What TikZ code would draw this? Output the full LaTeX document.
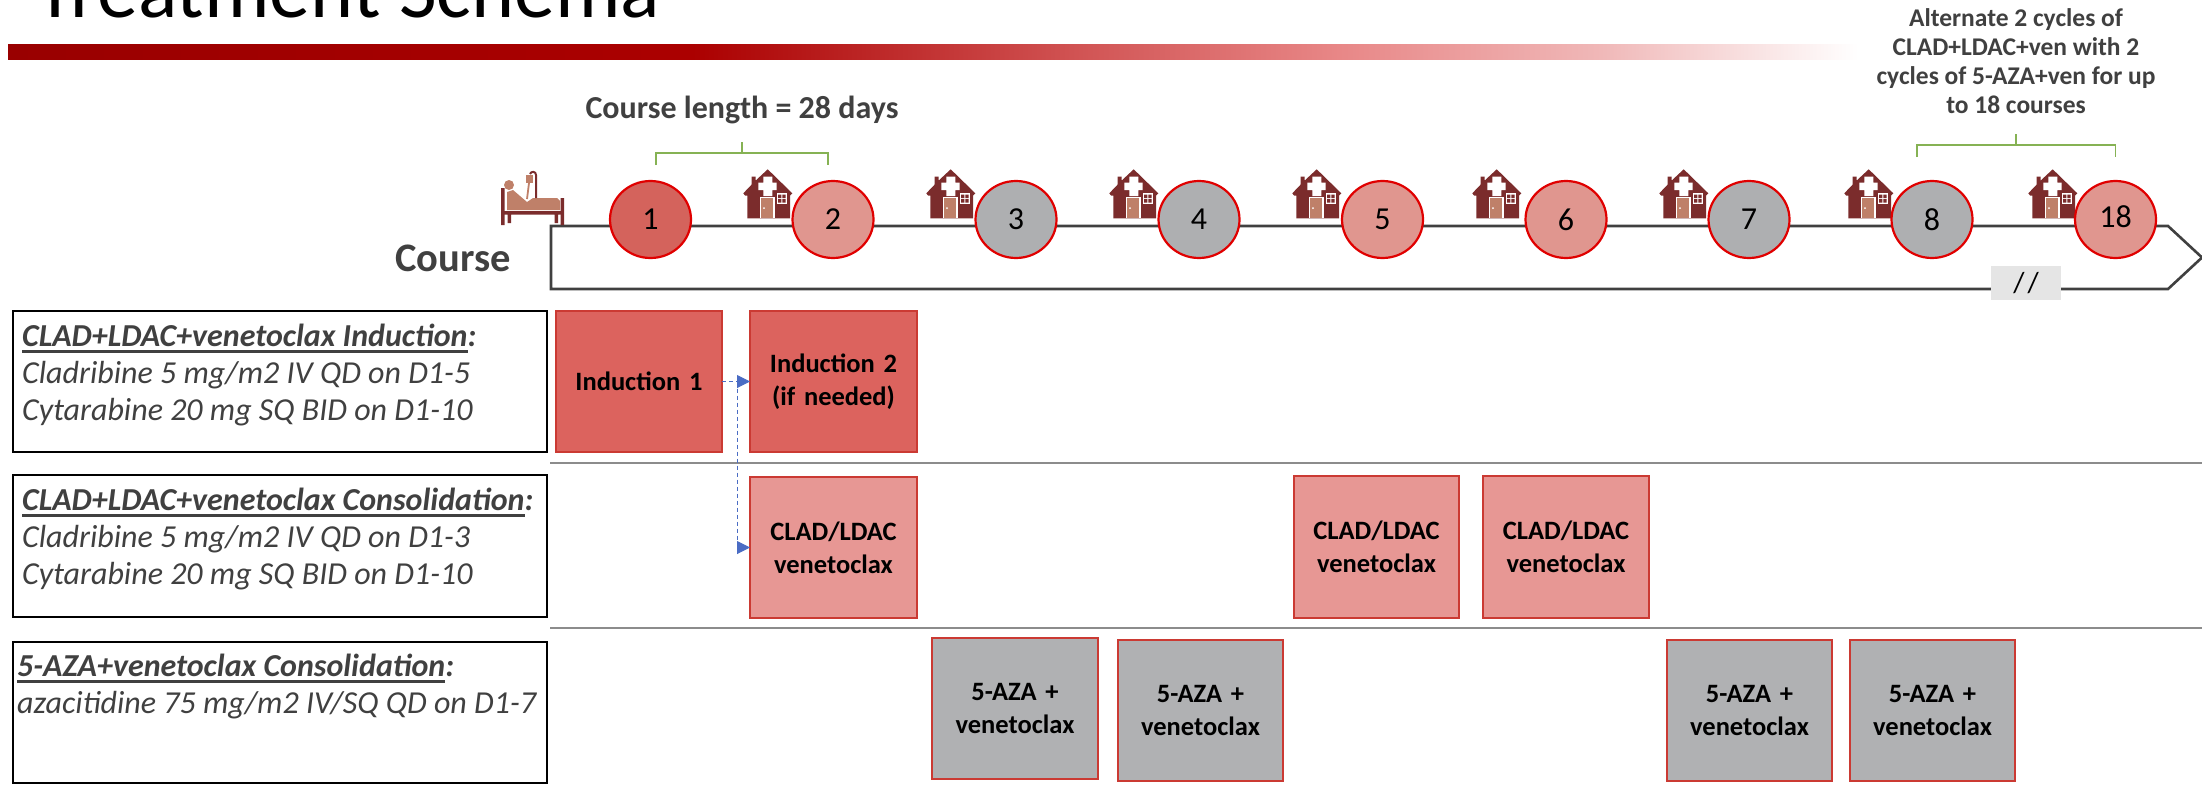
\documentclass[tikz,border=0pt]{standalone}
\usepackage{fontspec}
\setmainfont{Carlito}
\usetikzlibrary{arrows.meta,shapes.geometric}
\definecolor{txtgray}{HTML}{404040}
\definecolor{circred}{HTML}{D4635C}
\definecolor{circpink}{HTML}{E0968F}
\definecolor{circgray}{HTML}{AEAFB1}
\definecolor{edgered}{HTML}{E00000}
\definecolor{boxred}{HTML}{DC635E}
\definecolor{boxpink}{HTML}{E79794}
\definecolor{boxgray}{HTML}{B0B1B3}
\definecolor{boxedge}{HTML}{CB3A33}
\definecolor{iconred}{HTML}{7B2C2C}
\definecolor{iconpink}{HTML}{BF8069}
\definecolor{brgreen}{HTML}{86B254}
\definecolor{arrowblue}{HTML}{4A6CC4}
\pgfdeclarehorizontalshading{barshade}{100bp}{
  rgb(0bp)=(0.6,0,0);
  rgb(25bp)=(0.6,0,0);
  rgb(43.5bp)=(0.67,0,0);
  rgb(54bp)=(0.82,0.33,0.33);
  rgb(61bp)=(0.91,0.53,0.53);
  rgb(68bp)=(0.94,0.72,0.72);
  rgb(75bp)=(1,1,1);
  rgb(100bp)=(1,1,1)}
\newcommand{\ulbox}[1]{\setbox0\hbox{#1}\rlap{\rule[-6.5pt]{\wd0}{2.8pt}}\box0}
\tikzset{
  course/.style={ellipse,draw=edgered,line width=2.2pt,minimum width=81pt,minimum height=77pt,inner sep=0pt,outer sep=0pt,font=\fontsize{32}{32}\selectfont,text=black},
  cred/.style={course,fill=circred},
  cpink/.style={course,fill=circpink},
  cgray/.style={course,fill=circgray},
  drug/.style={rectangle,draw=boxedge,line width=2.4pt,anchor=north west,inner sep=0pt,outer sep=0pt,align=center,
     font=\bfseries\fontsize{26.5}{33}\selectfont,text=black,text width=160pt},
  infobox/.style={rectangle,draw=black,line width=2.8pt,anchor=north west,minimum width=534pt,inner sep=0pt,outer sep=0pt},
  infotext/.style={anchor=north west,inner sep=0pt,align=left,text=txtgray,font=\itshape\fontsize{32}{37}\selectfont},
  note/.style={text=txtgray,inner sep=0pt,font=\bfseries\fontsize{25.5}{29}\selectfont,align=center},
  bracket/.style={draw=brgreen,line width=1.6pt},
  sep/.style={draw=gray!90,line width=1.6pt},
  flow/.style={draw=arrowblue,line width=1pt,dash pattern=on 4pt off 3pt},
  house/.pic={
    \fill[iconred] (24.7,-49.7) -- (12.7,-38.5) -- (12.7,-42.3) -- (8.7,-42.3) -- (8.7,-34.5) -- (.3,-25.7) -- (2,-23.5) -- (4.3,-23.5) -- (4.3,-.7) -- (47,-.7) -- (47,-23.5) -- (49.3,-25.7) -- cycle;
    \fill[white] (20.3,-42.3) rectangle (29.3,-23) (15.3,-36.3) rectangle (33.7,-29);
    \fill[white] (16.5,-22) rectangle (31.5,-.7);
    \fill[iconpink] (18,-20.7) rectangle (30,-.7);
    \fill[white] (21,-10.8) circle (1);
    \fill[white] (33.7,-25.7) rectangle (44,-15.2);
    \fill[iconred] (35,-24.4) rectangle (38.3,-21) (39.4,-24.4) rectangle (42.7,-21) (35,-20) rectangle (38.3,-16.5) (39.4,-20) rectangle (42.7,-16.5);
  }
}
\begin{document}
\begin{tikzpicture}[x=1pt,y=-1pt]
\useasboundingbox (0,0) rectangle (2202,790);
% title and bar
\node[anchor=base west,inner sep=0pt,font=\fontsize{82}{82}\selectfont] (title) at (35,17) {Treatment Schema};
\shade[shading=barshade] (8,44) rectangle (1858,59);
% timeline
\coordinate (tlA) at (551,226);
\coordinate (tlB) at (2168,226);
\coordinate (tlC) at (2202,257.5);
\coordinate (tlD) at (2168,289);
\coordinate (tlE) at (551,289);
\draw[draw=txtgray,line width=2.6pt,line join=miter] (tlA) -- (tlB) -- (tlC) -- (tlD) -- (tlE) -- cycle;
% slash marker
\node[fill=black!10,minimum width=70pt,minimum height=34pt,inner sep=0pt,font=\fontsize{29}{29}\selectfont] (slash) at (2026,283) {/\kern3pt/};
% bed icon
\begin{scope}
  \fill[iconred] (501,188) rectangle (504.5,225) (560.5,198) rectangle (564,225);
  \fill[iconred] (504,211) rectangle (561,214.5) (507.5,214) rectangle (511,223) (554.5,214) rectangle (558,223);
  \fill[iconpink] (509,185) circle (5);
  \fill[iconpink] (507,192) -- (513,190) -- (527,202) -- (533,198) -- (557,198) -- (560,201) -- (560,210) -- (507,210) -- cycle;
  \fill[iconpink] (526,175) rectangle (533,183);
  \draw[iconpink,line width=1.8pt] (529,183) -- (527,199);
  \draw[iconred,line width=2pt] (536,198) -- (536,175) .. controls (536,171) and (531,171) .. (530,174);
\end{scope}
% houses
\foreach \hx in {743,926,1109,1292,1472,1659,1844,2028}
  \pic at (\hx,219) {house};
% course circles
\node[cred] (c1) at (650.5,219.5) {1};
\node[cpink] (c2) at (833,219.5) {2};
\node[cgray] (c3) at (1016,219.5) {3};
\node[cgray] (c4) at (1199,219.5) {4};
\node[cpink] (c5) at (1382.5,219.5) {5};
\node[cpink] (c6) at (1566,219.5) {6};
\node[cgray] (c7) at (1749,219.5) {7};
\node[cgray] (c8) at (1932,219.5) {8};
\node[cpink] (c18) at (2115.5,219.5) {\raisebox{6pt}{18}};
% labels
\node[note,font=\bfseries\fontsize{32}{32}\selectfont] (len) at (742,110) {Course length = 28 days};
\node[note,font=\bfseries\fontsize{40.5}{40.5}\selectfont] (crs) at (453,258) {Course};
\node[note,anchor=north] (alt) at (2016,8) {Alternate 2 cycles of\\CLAD+LDAC+ven with 2\\cycles of 5-AZA+ven for up\\to 18 courses};
% brackets
\coordinate (b1a) at (656,165); \coordinate (b1b) at (656,153);
\coordinate (b1c) at (828,153); \coordinate (b1d) at (828,165);
\coordinate (b1e) at (742,153); \coordinate (b1f) at (742,142);
\draw[bracket] (b1a) -- (b1b) -- (b1c) -- (b1d) (b1e) -- (b1f);
\coordinate (b2a) at (1917,157); \coordinate (b2b) at (1917,145);
\coordinate (b2c) at (2115.5,145); \coordinate (b2d) at (2115.5,157);
\coordinate (b2e) at (2016,145); \coordinate (b2f) at (2016,134);
\draw[bracket] (b2a) -- (b2b) -- (b2c) -- (b2d) (b2e) -- (b2f);
% info boxes
\node[infobox,minimum height=141pt] (i1) at (13,311) {};
\node[infotext] (i1t) at (22,324) {\bfseries\ulbox{CLAD+LDAC+venetoclax Induction}:\\Cladribine 5 mg/m2 IV QD on D1-5\\Cytarabine 20 mg SQ BID on D1-10};
\node[infobox,minimum height=142pt] (i2) at (13,475) {};
\node[infotext] (i2t) at (22,488) {\bfseries\ulbox{CLAD+LDAC+venetoclax Consolidation}:\\Cladribine 5 mg/m2 IV QD on D1-3\\Cytarabine 20 mg SQ BID on D1-10};
\node[infobox,minimum height=141pt] (i3) at (13,642) {};
\node[infotext] (i3t) at (17,654) {\bfseries\ulbox{5-AZA+venetoclax Consolidation}:\\azacitidine 75 mg/m2 IV/SQ QD on D1-7};
% separators
\coordinate (s1a) at (550,463); \coordinate (s1b) at (2202,463);
\coordinate (s2a) at (550,628); \coordinate (s2b) at (2202,628);
\draw[sep] (s1a) -- (s1b);
\draw[sep] (s2a) -- (s2b);
% treatment boxes
\node[drug,fill=boxred,minimum width=166pt,minimum height=141pt] (ind1) at (556,311) {Induction 1};
\node[drug,fill=boxred,minimum width=167pt,minimum height=141pt] (ind2) at (750,311) {Induction 2\\(if needed)};
\node[drug,fill=boxpink,minimum width=167pt,minimum height=141pt] (cl1) at (750,477) {CLAD/LDAC\\venetoclax};
\node[drug,fill=boxpink,minimum width=165pt,minimum height=142pt] (cl2) at (1294,476) {CLAD/LDAC\\venetoclax};
\node[drug,fill=boxpink,minimum width=166pt,minimum height=142pt] (cl3) at (1483,476) {CLAD/LDAC\\venetoclax};
\node[drug,fill=boxgray,minimum width=166pt,minimum height=141pt] (az1) at (932,638) {5-AZA +\\venetoclax};
\node[drug,fill=boxgray,minimum width=165pt,minimum height=141pt] (az2) at (1118,640) {5-AZA +\\venetoclax};
\node[drug,fill=boxgray,minimum width=165pt,minimum height=141pt] (az3) at (1667,640) {5-AZA +\\venetoclax};
\node[drug,fill=boxgray,minimum width=165pt,minimum height=141pt] (az4) at (1850,640) {5-AZA +\\venetoclax};
% flow arrows
\coordinate (fork) at (ind1.east -| 737,0);
\coordinate (forkdown) at (cl1.west -| 737,0);
\draw[flow,-{Triangle[length=13pt,width=13pt]}] (ind1.east) -- (ind2.west);
\draw[flow,-{Triangle[length=13pt,width=13pt]}] (fork) -- (forkdown) -- (cl1.west);
\end{tikzpicture}
\end{document}
